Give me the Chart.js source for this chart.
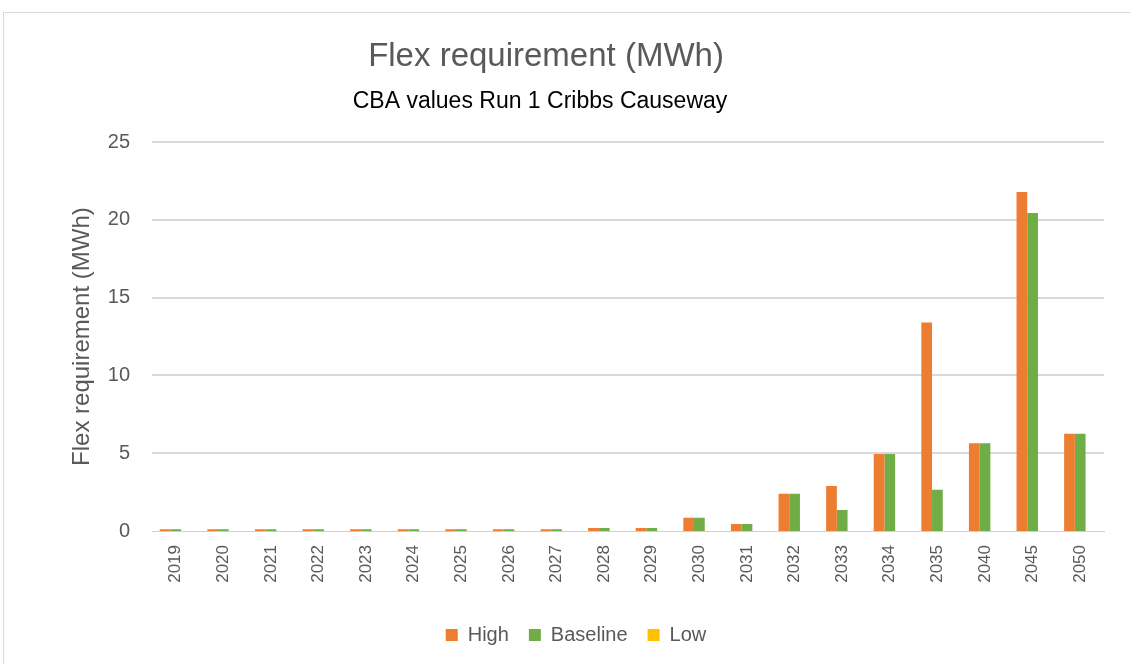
<!DOCTYPE html>
<html>
<head>
<meta charset="utf-8">
<script src="https://cdn.jsdelivr.net/npm/chart.js@4"></script>
<style>
  html, body { margin: 0; padding: 0; background: #fff; }
  #wrap { position: relative; width: 1130px; height: 664px; overflow: hidden; }
  #frame { position: absolute; left: 3px; top: 12px; width: 1140px; height: 700px;
           border-top: 1px solid #d9d9d9; border-left: 1px solid #d9d9d9; }
  #chart { position: absolute; left: 0; top: 0; }
</style>
</head>
<body>
<div id="wrap">
  <div id="frame"></div>
  <canvas id="chart" width="1130" height="664"></canvas>
</div>
<script>
var years = ['2019', '2020', '2021', '2022', '2023', '2024', '2025', '2026', '2027', '2028',
             '2029', '2030', '2031', '2032', '2033', '2034', '2035', '2040', '2045', '2050'];
var highValues = [0.12, 0.12, 0.12, 0.12, 0.12, 0.12, 0.12, 0.12, 0.12, 0.2,
                  0.2, 0.85, 0.45, 2.4, 2.9, 4.95, 13.4, 5.65, 21.8, 6.25];
var baselineValues = [0.12, 0.12, 0.12, 0.12, 0.12, 0.12, 0.12, 0.12, 0.12, 0.2,
                      0.2, 0.85, 0.45, 2.4, 1.35, 4.95, 2.65, 5.65, 20.45, 6.25];
var lowValues = [0, 0, 0, 0, 0, 0, 0, 0, 0, 0,
                 0, 0, 0, 0, 0, 0, 0, 0, 0, 0];

var fontFamily = "'Liberation Sans', Arial, sans-serif";
var textGrey = '#595959';
var gridGrey = '#d9d9d9';

// nudge the legend right and the titles left, like the original
var boxShift = {
    id: 'boxShift',
    afterLayout: function(chart) {
        chart.legend.left += 24;
        chart.legend.right += 24;
        chart.boxes.forEach(function(box) {
            if (box.options && box.options.text === 'Flex requirement (MWh)' && box.position === 'top') {
                box.left -= 6;
                box.right -= 6;
            } else if (box.options && box.options.text === 'CBA values Run 1 Cribbs Causeway') {
                box.left -= 12;
                box.right -= 12;
            }
        });
    }
};

var ctx = document.getElementById('chart').getContext('2d');

var chart = new Chart(ctx, {
    type: 'bar',
    data: {
        labels: years,
        datasets: [
            { label: 'High', data: highValues, backgroundColor: '#ED7D31' },
            { label: 'Baseline', data: baselineValues, backgroundColor: '#70AD47' },
            { label: 'Low', data: lowValues, backgroundColor: '#FFC000' }
        ]
    },
    plugins: [boxShift],
    options: {
        responsive: false,
        animation: false,
        layout: {
            padding: { top: 37, left: 0, right: 26, bottom: 9 }
        },
        datasets: {
            bar: {
                categoryPercentage: 0.675,
                barPercentage: 1.0,
                inflateAmount: 0
            }
        },
        scales: {
            'x': {
                grid: { display: false },
                border: { display: true, color: '#cfcfcf', width: 1 },
                ticks: {
                    minRotation: 90,
                    maxRotation: 90,
                    color: textGrey,
                    padding: 6,
                    font: { family: fontFamily, size: 17 }
                },
                afterFit: function(scale) {
                    scale.height = 74;
                }
            },
            'y': {
                min: 0,
                max: 25,
                ticks: {
                    stepSize: 5,
                    color: textGrey,
                    padding: 22,
                    font: { family: fontFamily, size: 20 }
                },
                grid: {
                    color: gridGrey,
                    lineWidth: function(c) {
                        // zero line comes from the x axis border
                        return c.tick && c.tick.value === 0 ? 0 : 2;
                    },
                    drawTicks: false
                },
                border: { display: false },
                title: {
                    display: true,
                    text: 'Flex requirement (MWh)',
                    color: textGrey,
                    font: { family: fontFamily, size: 24 },
                    padding: { top: 68, bottom: 0 }
                },
                afterFit: function(scale) {
                    scale.width = 152;
                }
            }
        },
        plugins: {
            title: {
                display: true,
                text: 'Flex requirement (MWh)',
                color: textGrey,
                font: { family: fontFamily, size: 33, weight: 'normal' },
                padding: { top: 0, bottom: 11 }
            },
            subtitle: {
                display: true,
                text: 'CBA values Run 1 Cribbs Causeway',
                color: '#000000',
                font: { family: fontFamily, size: 23 },
                padding: { top: 0, bottom: 27 }
            },
            legend: {
                position: 'bottom',
                labels: {
                    boxWidth: 12,
                    boxHeight: 12,
                    color: textGrey,
                    padding: 20,
                    font: { family: fontFamily, size: 20 }
                }
            },
            tooltip: { enabled: false }
        }
    }
});
</script>
</body>
</html>
